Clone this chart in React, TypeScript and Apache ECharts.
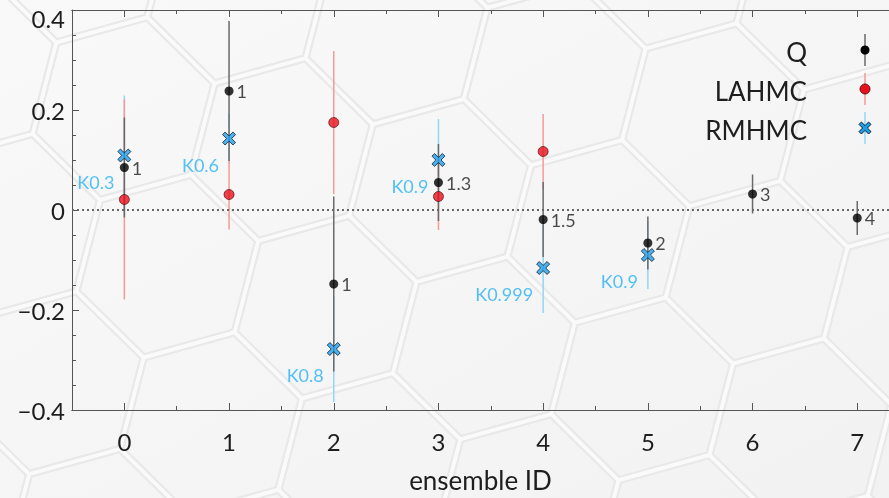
import React, { useEffect, useRef } from 'react';
import * as echarts from 'echarts';

// ---- data ----
const ensembleIds = [0, 1, 2, 3, 4, 5, 6, 7];
const minorTickValues = [0.5, 1.5, 2.5, 3.5, 4.5, 5.5, 6.5];

const qIds = [0, 1, 2, 3, 4, 5, 6, 7];
const qValues = [0.085, 0.238, -0.148, 0.055, -0.019, -0.066, 0.032, -0.016];
const qErrors = [0.1, 0.14, 0.175, 0.077, 0.075, 0.053, 0.039, 0.034];
const qLabels = ['1', '1', '1', '1.3', '1.5', '2', '3', '4'];

const lahmcIds = [0, 1, 2, 3, 4];
const lahmcValues = [0.021, 0.031, 0.175, 0.027, 0.117];
const lahmcErrors = [0.2, 0.07, 0.143, 0.067, 0.075];

const rmhmcIds = [0, 1, 2, 3, 4, 5];
const rmhmcValues = [0.109, 0.143, -0.278, 0.1, -0.116, -0.09];
const rmhmcErrors = [0.12, 0.05, 0.106, 0.082, 0.09, 0.068];
const rmhmcLabels = ['K0.3', 'K0.6', 'K0.8', 'K0.9', 'K0.999', 'K0.9'];

const legendNames = ['Q', 'LAHMC', 'RMHMC'];
const xAxisName = 'ensemble ID';

// ---- styles ----
const FONT = 'Lato';
const FW = 400;
const TXT = '#1e1e1e';
const Q_BAR = '#6a6a6a';
const LA_BAR = '#f59a9a';
const RM_BAR = '#93d6f6';
const LA_DOT = '#e8101a';
const RM_FILL = '#1f9ee8';
const RM_TEXT = '#29b3f2';
const X_PATH = 'path://M2,0 L5,3 L8,0 L10,2 L7,5 L10,8 L8,10 L5,7 L2,10 L0,8 L3,5 L0,2 Z';

function xPolygon(cx: number, cy: number, s: number) {
  const raw = [[2, 0], [5, 3], [8, 0], [10, 2], [7, 5], [10, 8], [8, 10], [5, 7], [2, 10], [0, 8], [3, 5], [0, 2]];
  return raw.map(([a, b]) => [cx + ((a - 5) / 10) * s, cy + ((b - 5) / 10) * s]);
}

function hexBackground() {
  const B = [100, 200];
  const p = [90.94, -25.23];
  const q = [25.23, 90.94];
  const els: any[] = [];
  const polys: number[][][] = [];
  for (let m = -10; m <= 14; m++) {
    for (let n = -12; n <= 12; n++) {
      const a = 0.5 + 1.5 * m;
      const b = 0.866 + 0.866 * m + 1.732 * n;
      const cx = B[0] + a * p[0] + b * q[0];
      const cy = B[1] + a * p[1] + b * q[1];
      if (cx < -130 || cx > 1020 || cy < -130 || cy > 630) continue;
      const pts: number[][] = [];
      for (let k = 0; k < 6; k++) {
        const c = Math.cos((Math.PI / 3) * k);
        const s = Math.sin((Math.PI / 3) * k);
        pts.push([cx + c * p[0] + s * q[0], cy + c * p[1] + s * q[1]]);
      }
      polys.push(pts);
    }
  }
  els.push({
    type: 'rect',
    silent: true,
    z: -30,
    shape: { x: 0, y: 0, width: 889, height: 498 },
    style: {
      fill: new echarts.graphic.LinearGradient(0, 0, 1, 1, [
        { offset: 0, color: '#f9f9f9' },
        { offset: 1, color: '#f2f2f2' },
      ]),
    },
  });
  polys.forEach((pts) =>
    els.push({ type: 'polygon', silent: true, z: -29, shape: { points: pts }, style: { fill: 'none', stroke: '#e9e9e9', lineWidth: 8 } })
  );
  polys.forEach((pts) =>
    els.push({ type: 'polygon', silent: true, z: -28, shape: { points: pts }, style: { fill: 'none', stroke: '#fafafa', lineWidth: 3.5 } })
  );
  return els;
}

function legendGraphics() {
  const textX = 807;
  const symX = 865;
  const ys = [50, 89, 128];
  const els: any[] = [];
  legendNames.forEach((name, i) => {
    els.push({
      type: 'text',
      x: textX,
      y: ys[i] + 2,
      z: 10,
      style: { text: name, textAlign: 'right', textVerticalAlign: 'middle', fontSize: 26, fontFamily: FONT, fontWeight: FW, fill: TXT },
    });
  });
  els.push({ type: 'line', z: 10, shape: { x1: symX, y1: ys[0] - 16, x2: symX, y2: ys[0] + 16 }, style: { stroke: Q_BAR, lineWidth: 1.5 } });
  els.push({ type: 'circle', z: 11, shape: { cx: symX, cy: ys[0], r: 4.5 }, style: { fill: '#000' } });
  els.push({ type: 'line', z: 10, shape: { x1: symX, y1: ys[1] - 16, x2: symX, y2: ys[1] + 16 }, style: { stroke: LA_BAR, lineWidth: 1.5 } });
  els.push({ type: 'circle', z: 11, shape: { cx: symX, cy: ys[1], r: 5 }, style: { fill: LA_DOT, stroke: '#400', lineWidth: 0.8 } });
  els.push({ type: 'line', z: 10, shape: { x1: symX, y1: ys[2] - 16, x2: symX, y2: ys[2] + 16 }, style: { stroke: RM_BAR, lineWidth: 1.5 } });
  els.push({ type: 'polygon', z: 11, shape: { points: xPolygon(symX, ys[2], 12) }, style: { fill: RM_FILL, stroke: '#123', lineWidth: 1 } });
  return els;
}

function errRender(color: string) {
  return (params: any, api: any) => {
    const x = api.value(0);
    const y = api.value(1);
    const e = api.value(2);
    const p1 = api.coord([x, y - e]);
    const p2 = api.coord([x, y + e]);
    return {
      type: 'line',
      shape: { x1: p1[0], y1: p1[1], x2: p2[0], y2: p2[1] },
      style: { stroke: color, lineWidth: 1.5 },
    };
  };
}

const zip3 = (ids: number[], v: number[], e: number[]) => ids.map((id, i) => [id, v[i], e[i]]);

export default function App() {
  const ref = useRef<HTMLDivElement>(null);
  useEffect(() => {
    const chart = echarts.init(ref.current!, null, { renderer: 'svg' });
    const axisColor = '#555';
    const xMin = -0.5;
    const xMax = -0.5 + 817 / 104.7;
    const baseX = {
      type: 'value',
      min: xMin,
      max: xMax,
      axisLine: { show: true, onZero: false, lineStyle: { color: axisColor, width: 1 } },
      splitLine: { show: false },
    };
    const majorTick = { show: true, inside: true, length: 7, customValues: ensembleIds, lineStyle: { color: axisColor } };
    const minorTickCfg = { show: true, inside: true, length: 4, customValues: minorTickValues, lineStyle: { color: axisColor } };
    const option: any = {
      animation: false,
      textStyle: { fontFamily: FONT, fontWeight: FW },
      grid: { left: 72, top: 10, right: 0, bottom: 88, containLabel: false, outerBoundsMode: 'none' },
      graphic: [...hexBackground(), ...legendGraphics()],
      xAxis: [
        {
          ...baseX,
          position: 'bottom',
          name: xAxisName,
          nameLocation: 'middle',
          nameGap: 57,
          nameTextStyle: { fontSize: 26, color: TXT, fontFamily: FONT, fontWeight: FW },
          axisTick: majorTick,
          axisLabel: {
            show: true,
            customValues: ensembleIds,
            margin: 19,
            fontSize: 24,
            color: TXT,
            fontFamily: FONT,
            fontWeight: FW,
            showMinLabel: true,
            showMaxLabel: true,
            formatter: (v: number) => String(Math.round(v)),
          },
        },
        { ...baseX, position: 'bottom', axisTick: minorTickCfg, axisLabel: { show: false } },
        { ...baseX, position: 'top', axisTick: majorTick, axisLabel: { show: false } },
        { ...baseX, position: 'top', axisTick: minorTickCfg, axisLabel: { show: false } },
      ],
      yAxis: {
        type: 'value',
        min: -0.4,
        max: 0.4,
        interval: 0.2,
        position: 'left',
        axisLine: { show: true, onZero: false, lineStyle: { color: axisColor, width: 1 } },
        axisTick: { show: true, inside: true, length: 7, lineStyle: { color: axisColor } },
        minorTick: { show: true, splitNumber: 4, length: 4, lineStyle: { color: axisColor } },
        splitLine: { show: false },
        minorSplitLine: { show: false },
        axisLabel: {
          margin: 7,
          fontSize: 24,
          color: TXT,
          fontFamily: FONT,
          fontWeight: FW,
          formatter: (v: number) => {
            if (Math.abs(v) < 1e-9) return '0';
            const s = (v < 0 ? '\u2212' : '') + Math.abs(v).toFixed(1);
            return v > 0.39 ? '{t|' + s + '}' : s;
          },
          rich: { t: { fontSize: 24, color: TXT, fontFamily: FONT, fontWeight: FW, padding: [16, 0, 0, 0] } },
        },
      },
      series: [
        {
          type: 'custom',
          name: 'RMHMC bars',
          z: 2,
          renderItem: errRender(RM_BAR),
          encode: { x: 0, y: 1 },
          data: zip3(rmhmcIds, rmhmcValues, rmhmcErrors),
          silent: true,
        },
        {
          type: 'custom',
          name: 'LAHMC bars',
          z: 3,
          renderItem: errRender(LA_BAR),
          encode: { x: 0, y: 1 },
          data: zip3(lahmcIds, lahmcValues, lahmcErrors),
          silent: true,
        },
        {
          type: 'custom',
          name: 'Q bars',
          z: 4,
          renderItem: errRender(Q_BAR),
          encode: { x: 0, y: 1 },
          data: zip3(qIds, qValues, qErrors),
          silent: true,
        },
        {
          type: 'scatter',
          name: 'Q',
          z: 6,
          symbol: 'circle',
          symbolSize: 9,
          itemStyle: { color: '#000' },
          data: qIds.map((id, i) => ({
            value: [id, qValues[i]],
            label: { formatter: qLabels[i] },
          })),
          label: { show: true, position: 'right', distance: 3, fontSize: 18, color: TXT, fontFamily: FONT, fontWeight: FW },
          markLine: {
            silent: true,
            symbol: 'none',
            label: { show: false },
            lineStyle: { type: [2, 3], color: '#666', width: 2 },
            data: [{ yAxis: 0 }],
          },
        },
        {
          type: 'scatter',
          name: 'LAHMC',
          z: 7,
          symbol: 'circle',
          symbolSize: 10,
          itemStyle: { color: LA_DOT, borderColor: '#400', borderWidth: 0.8 },
          data: lahmcIds.map((id, i) => [id, lahmcValues[i]]),
        },
        {
          type: 'scatter',
          name: 'RMHMC',
          z: 8,
          symbol: X_PATH,
          symbolSize: 13,
          itemStyle: { color: RM_FILL, borderColor: '#123', borderWidth: 1 },
          data: rmhmcIds.map((id, i) => ({
            value: [id, rmhmcValues[i]],
            label: { formatter: rmhmcLabels[i] },
          })),
          label: { show: true, position: 'left', distance: 3, offset: [0, 26], fontSize: 18, color: RM_TEXT, fontFamily: FONT, fontWeight: FW },
        },
      ],
    };
    chart.setOption(option);
    return () => chart.dispose();
  }, []);
  return <div ref={ref} style={{ position: 'fixed', left: 0, top: 0, width: 889, height: 498 }} />;
}
